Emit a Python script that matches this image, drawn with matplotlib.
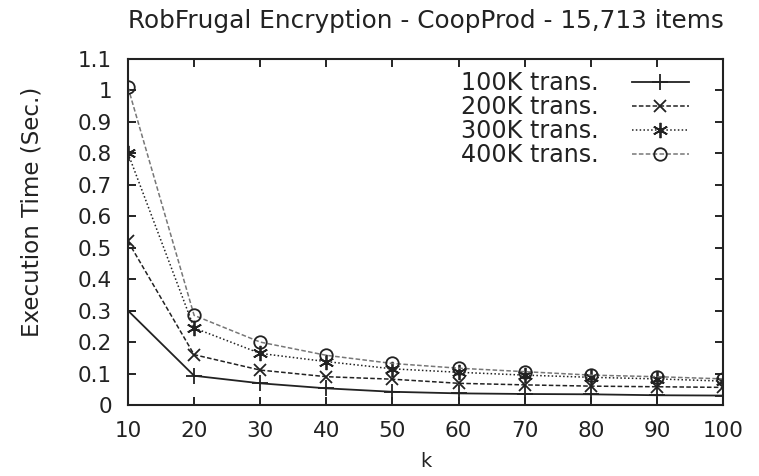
import matplotlib
matplotlib.use("Agg")
import matplotlib.pyplot as plt

plt.rcParams['font.family'] = ['DejaVu Sans']

k = [10, 20, 30, 40, 50, 60, 70, 80, 90, 100]
t100 = [0.30, 0.093, 0.069, 0.053, 0.042, 0.037, 0.035, 0.034, 0.031, 0.030]
t200 = [0.52, 0.16, 0.111, 0.090, 0.082, 0.069, 0.064, 0.060, 0.058, 0.056]
t300 = [0.80, 0.245, 0.164, 0.138, 0.115, 0.104, 0.095, 0.088, 0.083, 0.076]
t400 = [1.01, 0.285, 0.200, 0.158, 0.132, 0.117, 0.106, 0.095, 0.090, 0.083]
labels = ["100K trans.", "200K trans.", "300K trans.", "400K trans."]
yticks = [0, 0.1, 0.2, 0.3, 0.4, 0.5, 0.6, 0.7, 0.8, 0.9, 1, 1.1]
ytick_labels = ["0", "0.1", "0.2", "0.3", "0.4", "0.5", "0.6", "0.7", "0.8", "0.9", "1", "1.1"]

fig = plt.figure(figsize=(7.59, 4.76), dpi=100)
ax = fig.add_axes([128/759, 1-405/476, (723-128)/759, (405-59)/476])

ax.plot(k, t100, color='#222222', lw=1.3, ls='-', marker='+', ms=11, mew=1.3, label=labels[0])
ax.plot(k, t200, color='#222222', lw=1.1, ls=(0, (3, 1.5)), marker='x', ms=9, mew=1.3, label=labels[1])
ax.plot(k, t300, color='#222222', lw=1.1, ls=(0, (1, 1.5)), marker=(6, 2, 0), ms=11, mew=1.3, label=labels[2])
ax.plot(k, t400, color='#777777', lw=1.1, ls=(0, (3, 1.5)), marker='o', ms=9, mew=1.3,
        mfc='none', mec='#222222', label=labels[3])

ax.set_xlim(10, 100)
ax.set_ylim(0, 1.1)
ax.set_xticks(k)
ax.set_xticklabels([str(v) for v in k])
ax.set_yticks(yticks)
ax.set_yticklabels(ytick_labels)
ax.tick_params(direction='in', length=6, width=1.2, labelsize=15.5, top=True, right=True,
               pad=11.5, labelcolor='#222222')
for s in ax.spines.values():
    s.set_linewidth(1.5)
    s.set_color('#222222')

ax.set_xlabel("k", fontsize=14, color='#222222')
ax.xaxis.set_label_coords(0.5, -0.135)
ax.set_ylabel("Execution Time (Sec.)", fontsize=16.6, color='#222222')
ax.yaxis.set_label_coords(-0.142, 0.558)
fig.text(426/759, 1-21/476, "RobFrugal Encryption - CoopProd - 15,713 items",
         fontsize=17.8, ha='center', va='center', color='#222222')

ax.legend(loc='upper right', frameon=False, markerfirst=False, fontsize=17.2,
          handlelength=2.4, borderaxespad=0.1, labelspacing=0.0, handletextpad=1.4,
          alignment='right', labelcolor='#222222', bbox_to_anchor=(0.963, 1.0))

fig.savefig("out.png", dpi=100)
